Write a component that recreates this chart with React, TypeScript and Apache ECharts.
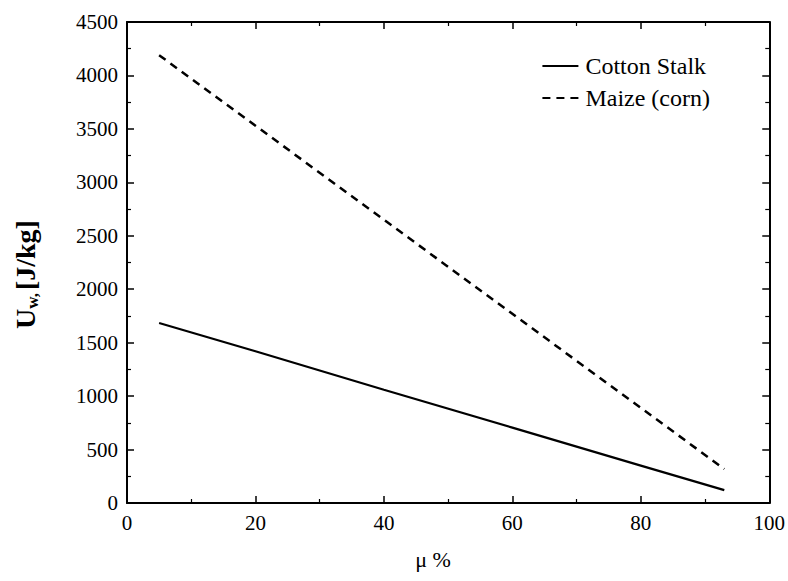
import React, { useEffect, useRef } from "react";
import * as echarts from "echarts";

const cottonX = [5, 20, 40, 60, 80, 93];
const cottonY = [1684, 1420, 1060, 705, 350, 120];
const maizeX = [5, 20, 40, 60, 80, 93];
const maizeY = [4190, 3530, 2650, 1770, 890, 318];
const seriesNames = ["Cotton Stalk", "Maize (corn)"];

const FONT = "Liberation Serif";

export default function App() {
  const ref = useRef<HTMLDivElement>(null);
  useEffect(() => {
    if (!ref.current) return;
    const chart = echarts.init(ref.current, undefined, { renderer: "svg" });
    const axisCommon = {
      type: "value" as const,
      axisLine: { show: true, onZero: false, lineStyle: { color: "#000", width: 2 } },
      axisTick: { show: true, inside: true, length: 7, lineStyle: { color: "#000", width: 1.5 } },
      minorTick: { show: true, splitNumber: 2, length: 4, lineStyle: { color: "#000", width: 1.2 } },
      splitLine: { show: false },
    };
    chart.setOption({
      animation: false,
      backgroundColor: "#fff",
      textStyle: { fontFamily: FONT },
      grid: { left: 127, right: 16, top: 22, bottom: 78 },
      legend: {
        orient: "vertical",
        right: 73,
        top: 49,
        itemWidth: 36,
        itemHeight: 12,
        itemGap: 8,
        itemStyle: { opacity: 0 },
        textStyle: { fontFamily: FONT, fontSize: 24, color: "#000", padding: [0, 0, 0, 2] },
        data: seriesNames,
      },
      xAxis: [
        {
          ...axisCommon,
          min: 0,
          max: 100,
          interval: 20,
          position: "bottom",
          name: "μ %",
          nameLocation: "middle",
          nameGap: 45,
          nameTextStyle: { fontFamily: FONT, fontSize: 22, color: "#000", padding: [0, 30, 0, 0] },
          axisLabel: { fontFamily: FONT, fontSize: 21, color: "#000", margin: 9 },
        },
        {
          ...axisCommon,
          min: 0,
          max: 100,
          interval: 20,
          position: "top",
          axisLabel: { show: false },
        },
      ],
      yAxis: [
        {
          ...axisCommon,
          min: 0,
          max: 4500,
          interval: 500,
          position: "left",
          name: "{a|U}{b|w,} {a|[J/kg]}",
          nameLocation: "middle",
          nameGap: 86,
          nameRotate: 90,
          nameTextStyle: {
            padding: [0, 24, 0, 0],
            rich: {
              a: { fontFamily: FONT, fontSize: 28, fontWeight: "bold", color: "#000" },
              b: { fontFamily: FONT, fontSize: 17, fontWeight: "bold", color: "#000", padding: [14, 0, 0, 0] },
            },
          },
          axisLabel: {
            fontFamily: FONT,
            fontSize: 21,
            color: "#000",
            margin: 9,
            formatter: (v: number) => String(v),
          },
        },
        {
          ...axisCommon,
          min: 0,
          max: 4500,
          interval: 500,
          position: "right",
          axisLabel: { show: false },
        },
      ],
      series: [
        {
          name: seriesNames[0],
          type: "line",
          symbol: "none",
          data: cottonX.map((x, i) => [x, cottonY[i]]),
          lineStyle: { color: "#000", width: 2.2, type: "solid" },
          itemStyle: { color: "#000" },
        },
        {
          name: seriesNames[1],
          type: "line",
          symbol: "none",
          data: maizeX.map((x, i) => [x, maizeY[i]]),
          lineStyle: { color: "#000", width: 2.5, type: [8, 6] },
          itemStyle: { color: "#000" },
        },
      ],
    });
    return () => chart.dispose();
  }, []);
  return <div ref={ref} style={{ width: 788, height: 581, position: "absolute", left: 0, top: 0 }} />;
}
